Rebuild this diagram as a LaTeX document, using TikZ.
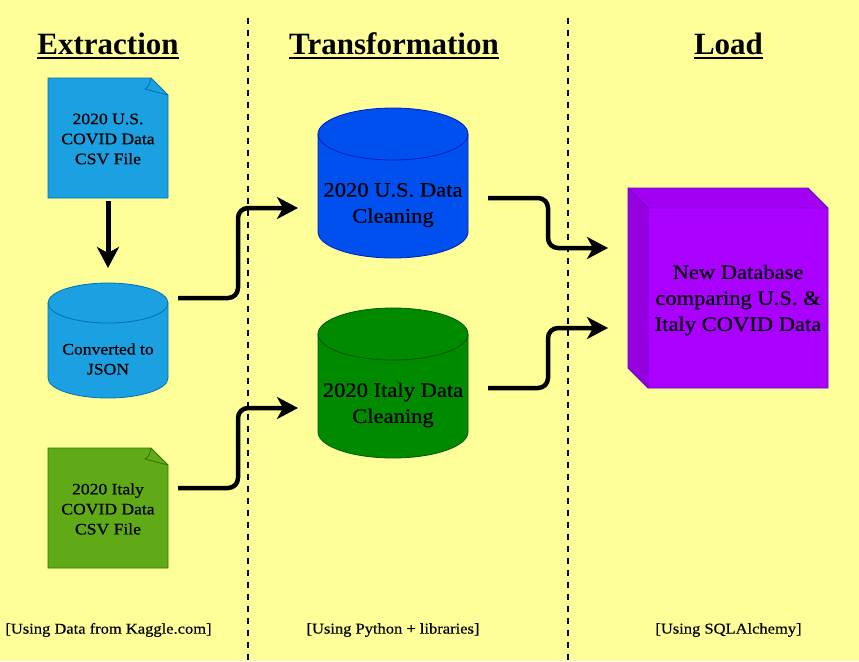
\documentclass[tikz,border=0pt]{standalone}
\usepackage{fontspec}
\setmainfont{Liberation Serif}
\newfontfamily\boxfont[FakeStretch=1.1,FakeBold=0.5]{Liberation Serif}
\usetikzlibrary{arrows.meta,calc}
\definecolor{bgyellow}{HTML}{FFFF99}
\definecolor{ltblue}{HTML}{1BA1E2}
\definecolor{ltblueline}{HTML}{006EAF}
\definecolor{dkblue}{HTML}{0050EF}
\definecolor{dkblueline}{HTML}{001DBC}
\definecolor{dkgreen}{HTML}{008A00}
\definecolor{dkgreenline}{HTML}{005700}
\definecolor{ltgreen}{HTML}{60A917}
\definecolor{ltgreenline}{HTML}{2D7600}
\definecolor{cubefill}{HTML}{AA00FF}
\definecolor{cubeline}{HTML}{7700CC}
\tikzset{
  heading/.style={font=\fontsize{31}{31}\selectfont\bfseries, inner sep=0pt},
  caption/.style={font=\boxfont\fontsize{15}{15}\selectfont, inner sep=0pt},
  smalltext/.style={align=center, inner sep=0pt, font=\boxfont\fontsize{16}{20}\selectfont},
  bigtext/.style={align=center, inner sep=0pt, font=\boxfont\fontsize{20.5}{26}\selectfont},
  area/.style={inner sep=0pt, outer sep=0pt, minimum width=#1},
  flowtip/.style={-{Stealth[length=21pt,width=22pt,inset=6pt]}},
  flow/.style={line width=4.5pt, rounded corners=10pt, flowtip},
  divider/.style={line width=2pt, dash pattern=on 6pt off 6pt}
}

\begin{document}
\begin{tikzpicture}[x=1pt, y=-1pt]

  \fill[bgyellow] (0,0) rectangle (859,661);
  \useasboundingbox (0,0) rectangle (859,661);

  % dividers
  \foreach \x in {248, 568}
    \draw[divider] (\x,18) -- (\x,661);

  % headings
  \foreach \x/\name/\txt in {108/hExtract/Extraction, 394/hTransform/Transformation, 728.5/hLoad/Load} {
    \node[heading] (\name) at (\x,44) {\txt};
    \draw[line width=2.2pt] ($(\name.base west)+(0,3.5)$) -- ($(\name.base east)+(0,3.5)$);
  }

  % notes
  \foreach \y/\name/\col/\lcol in {78/usnote/ltblue/ltblueline, 448/itnote/ltgreen/ltgreenline} {
    \draw[fill=\col, draw=\lcol, line width=0.8pt] (48,\y) -- (151,\y) -- (168,\y+17) -- (168,\y+120) -- (48,\y+120) -- cycle;
    \draw[draw=\lcol, line width=0.8pt] (151,\y) .. controls (150,\y+6) and (149,\y+8) .. (145,\y+11) -- (168,\y+17);
    \node[area=120pt, minimum height=120pt] (\name) at (108,\y+60) {};
  }
  \node[smalltext] at (108,139) {2020 U.S.\\COVID Data\\CSV File};
  \node[smalltext] at (108,509) {2020 Italy\\COVID Data\\CSV File};

  % databases
  \foreach \x/\y/\rx/\hgt/\ry/\name/\col/\lcol in {108/283/60/115/20/json/ltblue/ltblueline, 393/108/75/150/26/uscyl/dkblue/dkblueline, 393/308/75/150/26/itcyl/dkgreen/dkgreenline} {
    \draw[fill=\col, draw=\lcol, line width=0.8pt] (\x-\rx,\y+\ry) arc[start angle=180, end angle=0, x radius=\rx pt, y radius=\ry pt] -- (\x+\rx,\y+\hgt-\ry) arc[start angle=0, end angle=-180, x radius=\rx pt, y radius=\ry pt] -- cycle;
    \draw[draw=\lcol, line width=0.8pt] (\x-\rx,\y+\ry) arc[start angle=180, end angle=360, x radius=\rx pt, y radius=\ry pt];
    \node[area=2*\rx*1pt, minimum height=\hgt*1pt] (\name) at (\x,\y+\hgt/2) {};
  }
  \node[smalltext] at (108,359) {Converted to\\JSON};
  \node[bigtext] at (393,205) {2020 U.S. Data\\Cleaning};
  \node[bigtext] at (393,405) {2020 Italy Data\\Cleaning};

  % cube
  \draw[fill=cubefill, draw=cubeline, line width=0.8pt] (628,188) -- (808,188) -- (828,208) -- (828,388) -- (648,388) -- (628,368) -- cycle;
  \fill[black, opacity=0.05] (628,188) -- (808,188) -- (828,208) -- (648,208) -- cycle;
  \fill[black, opacity=0.12] (628,188) -- (648,208) -- (648,388) -- (628,368) -- cycle;
  \draw[draw=cubeline, line width=0.8pt] (628,188) -- (648,208) -- (828,208) (648,208) -- (648,388);
  \node[area=180pt, minimum height=180pt] (newdb) at (738,298) {};
  \node[bigtext] at (738,300) {New Database\\comparing U.S. \&\\Italy COVID Data};

  % captions
  \node[caption] (capA) at (108.5,630) {[Using Data from Kaggle.com]};
  \node[caption] (capB) at (393,630) {[Using Python + libraries]};
  \node[caption] (capC) at (728.5,630) {[Using SQLAlchemy]};

  % connectors
  \coordinate (jsonout) at (178,298);
  \coordinate (usin) at (298,208);
  \coordinate (itout) at (178,488);
  \coordinate (itin) at (298,408);
  \coordinate (usout) at (488,198);
  \coordinate (dbtop) at (608,248);
  \coordinate (italyout) at (488,388);
  \coordinate (dbbot) at (608,328);

  \draw[line width=5pt, flowtip, shorten <=3pt, shorten >=15pt] (usnote.south) -- (json.north);
  \foreach \source/\dest in {jsonout/usin, itout/itin, usout/dbtop, italyout/dbbot}
    \draw[flow] (\source) -- ++(60,0) |- (\dest);

\end{tikzpicture}
\end{document}
